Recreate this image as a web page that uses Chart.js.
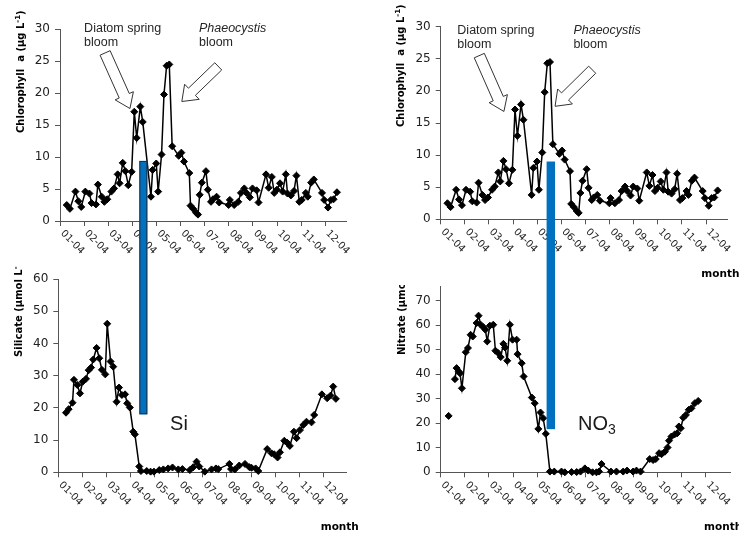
<!DOCTYPE html>
<html>
<head>
<meta charset="utf-8">
<script src="https://cdn.jsdelivr.net/npm/chart.js@4.4.1/dist/chart.umd.min.js"></script>
<style>
  html, body { margin: 0; padding: 0; background: #fff; overflow: hidden; }
  #wrap { position: relative; width: 739px; height: 533px; }
  #wrap canvas { position: absolute; left: 0; top: 0; }
</style>
</head>
<body>
<div id="wrap">
  <canvas id="cTL" width="739" height="533"></canvas>
  <canvas id="cTR" width="739" height="533"></canvas>
  <canvas id="cBL" width="739" height="533"></canvas>
  <canvas id="cBR" width="739" height="533"></canvas>
</div>
<script>
// Month axis (x = months elapsed since 1 Jan 2004)
const monthLabels = ['01-04','02-04','03-04','04-04','05-04','06-04','07-04','08-04','09-04','10-04','11-04','12-04'];

// Chlorophyll a (µg L-1)
const chlMonth = [0.28,0.41,0.64,0.76,0.88,1.05,1.22,1.31,1.49,1.57,1.73,1.84,1.96,2.13,2.24,2.39,2.47,2.60,2.71,2.83,2.97,3.08,3.18,3.33,3.43,3.77,3.84,3.99,4.07,4.21,4.31,4.42,4.53,4.65,4.92,5.03,5.14,5.36,5.41,5.52,5.64,5.72,5.79,5.88,6.05,6.13,6.26,6.34,6.49,6.60,6.99,7.04,7.22,7.39,7.50,7.64,7.73,7.87,7.98,8.15,8.23,8.54,8.65,8.78,8.88,8.99,9.12,9.23,9.36,9.43,9.57,9.70,9.80,9.92,10.02,10.19,10.27,10.41,10.52,10.86,10.95,11.11,11.23,11.34,11.48];
const chlValue = [2.5,1.9,4.6,3.1,2.2,4.6,4.3,2.8,2.6,5.7,3.8,3.0,3.4,4.6,5.1,7.3,5.9,9.1,7.8,5.6,7.7,17.1,13.0,17.9,15.5,3.8,8.0,9.0,4.6,10.4,19.8,24.3,24.5,11.7,10.2,10.7,9.3,7.5,2.4,1.9,1.3,1.0,4.1,6.0,7.8,4.9,3.0,3.4,3.8,2.9,2.5,3.3,2.5,3.0,4.4,5.1,4.4,3.7,5.1,4.8,2.9,7.3,5.2,6.9,4.4,4.9,5.9,4.6,7.3,4.3,4.0,4.7,7.1,3.0,3.3,4.4,3.8,6.0,6.5,4.4,3.3,2.1,3.3,3.4,4.5];

// Silicate (µmol L-1)
const siMonth = [0.32,0.43,0.59,0.65,0.79,0.90,1.01,1.15,1.26,1.36,1.45,1.59,1.70,1.81,1.95,2.03,2.17,2.28,2.42,2.52,2.64,2.77,2.86,2.97,3.11,3.18,3.36,3.43,3.67,3.83,3.97,4.19,4.36,4.56,4.74,4.98,5.15,5.46,5.60,5.74,5.85,6.08,6.36,6.54,6.64,7.10,7.17,7.33,7.51,7.75,7.93,8.02,8.19,8.30,8.67,8.85,8.96,9.10,9.20,9.38,9.50,9.61,9.78,9.89,10.03,10.17,10.30,10.51,10.62,10.94,11.16,11.30,11.41,11.52];
const siValue = [18.5,19.6,21.6,28.7,27.1,24.5,28.1,29.0,31.7,32.5,35.0,38.6,35.4,31.8,30.4,46.1,34.4,32.8,21.9,26.3,24.0,24.2,21.4,20.1,12.6,11.8,1.8,0.4,0.4,0.2,0.2,0.7,0.9,1.2,1.5,0.9,1.0,0.7,1.6,3.3,1.8,0.2,0.9,1.2,1.0,2.6,1.0,0.9,2.1,2.6,1.6,1.4,1.2,0.4,7.2,5.9,5.6,4.6,6.2,9.8,9.2,8.2,12.6,10.6,13.1,14.7,15.7,15.5,17.8,24.2,23.0,23.8,26.6,22.8];

// Nitrate (µmol L-1); null marks the break after the first sample
const no3Month = [0.33,0.45,0.59,0.66,0.75,0.80,0.88,1.04,1.13,1.24,1.33,1.49,1.57,1.66,1.77,1.85,1.93,2.04,2.18,2.27,2.39,2.49,2.60,2.67,2.76,2.87,2.98,3.15,3.19,3.36,3.44,3.78,3.90,4.05,4.14,4.25,4.36,4.53,4.71,5.01,5.15,5.43,5.64,5.80,5.98,6.12,6.30,6.46,6.57,6.67,7.06,7.29,7.57,7.73,7.98,8.12,8.29,8.67,8.81,8.92,9.06,9.16,9.30,9.41,9.47,9.57,9.71,9.81,9.88,9.96,10.06,10.17,10.29,10.40,10.54,10.68];
const no3Value = [23.0,null,38.0,42.5,41.1,40.4,34.3,49.0,50.7,56.1,55.4,60.9,63.9,60.2,59.2,58.2,53.4,59.8,60.2,49.6,48.6,47.0,52.4,50.9,45.5,60.2,54.1,54.1,48.2,44.5,39.1,30.5,28.2,17.7,24.4,22.1,15.7,0.3,0.3,0.3,0.0,0.1,0.1,0.3,1.6,0.7,0.0,0.0,0.3,3.4,0.3,0.3,0.3,0.7,0.3,0.7,0.3,5.4,5.0,5.4,7.8,7.4,8.4,10.1,12.9,14.6,15.5,15.9,18.7,18.0,22.3,23.4,25.5,26.1,28.2,29.1];

// Depletion markers: month span, top level on the chlorophyll axis, bottom level on the nutrient axis
const depletionBars = [
  { upper: 'TL', lower: 'BL', from: 3.29, to: 3.62, top: 9.4, bottom: 18.0, outline: true },
  { upper: 'TR', lower: 'BR', from: 4.39, to: 4.74, top: 9.0, bottom: 17.6, outline: false }
];

const AXIS = '#555';
const TICK_FONT = '"DejaVu Sans", Verdana, sans-serif';
const TEXT_FONT = '"Liberation Sans", Arial, sans-serif';
const Y_W = 50, X_H = 30;

const chlTitle = [{ t: 'Chlorophyll  a (µg L' }, { t: '-1', sup: true }, { t: ')' }];
const siTitle = [{ t: 'Silicate (µmol L' }, { t: '-1', sup: true }, { t: ')' }];
const no3Title = [{ t: 'Nitrate (µmol L' }, { t: '-1', sup: true }, { t: ')' }];

const bloomNotes = {
  TL: { diatom: [1.0, 29.6], phaeo: [5.76, 29.6],
        arrows: [ { from: [1.87, 26.3], to: [2.90, 17.6], shaft: 11, head: 20, len: 14 },
                  { from: [6.56, 24.2], to: [5.05, 18.7], shaft: 10, head: 21, len: 14 } ] },
  TR: { diatom: [0.69, 28.8], phaeo: [5.50, 28.8],
        arrows: [ { from: [1.60, 25.5], to: [2.62, 16.8], shaft: 11, head: 20, len: 14 },
                  { from: [6.28, 23.3], to: [4.74, 17.6], shaft: 10, head: 21, len: 14 } ] }
};

const panels = {
  TL: { xs: chlMonth, ys: chlValue, xMax: 11.88, yMax: 30, yTop: 30, yStep: 5,
        area: { left: 60, right: 346.6, top: 29.3, bottom: 221 },
        title: chlTitle, titleX: 21, titleBottom: 133, clipTop: 0, month: false, notes: bloomNotes.TL },
  TR: { xs: chlMonth, ys: chlValue, xMax: 11.88, yMax: 30, yTop: 30, yStep: 5,
        area: { left: 440.7, right: 727.3, top: 26.7, bottom: 219.3 },
        title: chlTitle, titleX: 401, titleBottom: 127, clipTop: 0, month: true, notes: bloomNotes.TR },
  BL: { xs: siMonth, ys: siValue, xMax: 11.97, yMax: 60, yTop: 60, yStep: 10,
        area: { left: 58.3, right: 346.7, top: 279, bottom: 472.3 },
        title: siTitle, titleX: 19, titleBottom: 357, clipTop: 266, month: true,
        tag: { text: 'Si', sub: '', at: [4.64, 13.1] } },
  BR: { xs: no3Month, ys: no3Value, xMax: 12.0, yMax: 76, yTop: 70, yStep: 10,
        area: { left: 440.7, right: 730, top: 286, bottom: 472.3 },
        title: no3Title, titleX: 402, titleBottom: 355, clipTop: 285, month: true,
        tag: { text: 'NO', sub: '3', at: [5.70, 17.3] } }
};

const charts = {};

function drawArrow(ctx, x1, y1, x2, y2, shaft, head, len) {
  const dx = x2 - x1, dy = y2 - y1, L = Math.hypot(dx, dy);
  const ux = dx / L, uy = dy / L, nx = -uy, ny = ux;
  const bx = x2 - ux * len, by = y2 - uy * len;
  const s = shaft / 2, h = head / 2;
  ctx.beginPath();
  ctx.moveTo(x1 + nx * s, y1 + ny * s);
  ctx.lineTo(bx + nx * s, by + ny * s);
  ctx.lineTo(bx + nx * h, by + ny * h);
  ctx.lineTo(x2, y2);
  ctx.lineTo(bx - nx * h, by - ny * h);
  ctx.lineTo(bx - nx * s, by - ny * s);
  ctx.lineTo(x1 - nx * s, y1 - ny * s);
  ctx.closePath();
  ctx.fillStyle = '#fff';
  ctx.fill();
  ctx.strokeStyle = '#333';
  ctx.lineWidth = 1;
  ctx.stroke();
}

function decorate(chart, p, key) {
  const ctx = chart.ctx, a = chart.chartArea, xs = chart.scales.x, ys = chart.scales.y;
  ctx.save();

  // rotated month labels
  ctx.font = '10px ' + TICK_FONT;
  ctx.fillStyle = '#222';
  ctx.textAlign = 'left';
  ctx.textBaseline = 'middle';
  monthLabels.forEach((lab, i) => {
    const px = xs.getPixelForValue(i);
    ctx.save();
    ctx.translate(px + 2, a.bottom + 11);
    ctx.rotate(Math.PI / 4);
    ctx.fillText(lab, 0, 0);
    ctx.restore();
  });

  // vertical axis title
  ctx.save();
  ctx.beginPath();
  ctx.rect(0, p.clipTop, 739, 533 - p.clipTop);
  ctx.clip();
  ctx.translate(p.titleX, p.titleBottom);
  ctx.rotate(-Math.PI / 2);
  ctx.fillStyle = '#000';
  let cx = 0;
  p.title.forEach(part => {
    ctx.font = (part.sup ? 'bold 7px ' : 'bold 10px ') + TICK_FONT;
    ctx.fillText(part.t, cx, part.sup ? -3 : 0);
    cx += ctx.measureText(part.t).width;
  });
  ctx.restore();

  // x axis title
  if (p.month) {
    ctx.font = 'bold 10.5px ' + TICK_FONT;
    ctx.fillStyle = '#000';
    ctx.fillText('month', a.right - 26, a.bottom + 55);
  }

  // nutrient tag
  if (p.tag) {
    const tx = xs.getPixelForValue(p.tag.at[0]), ty = ys.getPixelForValue(p.tag.at[1]);
    ctx.fillStyle = '#1a1a1a';
    ctx.textBaseline = 'alphabetic';
    ctx.font = '20px ' + TEXT_FONT;
    ctx.fillText(p.tag.text, tx, ty);
    if (p.tag.sub) {
      const w = ctx.measureText(p.tag.text).width;
      ctx.font = '14px ' + TEXT_FONT;
      ctx.fillText(p.tag.sub, tx + w, ty + 4.5);
    }
  }

  // bloom annotations
  if (p.notes) {
    const n = p.notes;
    n.arrows.forEach(ar => drawArrow(ctx,
      xs.getPixelForValue(ar.from[0]), ys.getPixelForValue(ar.from[1]),
      xs.getPixelForValue(ar.to[0]), ys.getPixelForValue(ar.to[1]), ar.shaft, ar.head, ar.len));
    ctx.fillStyle = '#262626';
    ctx.textBaseline = 'alphabetic';
    ctx.textAlign = 'left';
    const dx = xs.getPixelForValue(n.diatom[0]), dy = ys.getPixelForValue(n.diatom[1]);
    ctx.font = '12.5px ' + TEXT_FONT;
    ctx.fillText('Diatom spring', dx, dy);
    ctx.fillText('bloom', dx, dy + 14);
    const px = xs.getPixelForValue(n.phaeo[0]), py = ys.getPixelForValue(n.phaeo[1]);
    ctx.font = 'italic 12.5px ' + TEXT_FONT;
    ctx.fillText('Phaeocystis', px, py);
    ctx.font = '12.5px ' + TEXT_FONT;
    ctx.fillText('bloom', px, py + 14);
  }

  // depletion bars spanning the chlorophyll and nutrient panels
  depletionBars.filter(b => b.lower === key).forEach(b => {
    const up = charts[b.upper];
    if (!up) return;
    const x1 = up.scales.x.getPixelForValue(b.from);
    const x2 = up.scales.x.getPixelForValue(b.to);
    const y1 = up.scales.y.getPixelForValue(b.top);
    const y2 = ys.getPixelForValue(b.bottom);
    ctx.fillStyle = '#0070C0';
    ctx.fillRect(x1, y1, x2 - x1, y2 - y1);
    if (b.outline) {
      ctx.strokeStyle = '#1c2f44';
      ctx.lineWidth = 1;
      ctx.strokeRect(x1 + 0.5, y1 + 0.5, x2 - x1 - 1, y2 - y1 - 1);
    }
  });

  ctx.restore();
}

function makePanel(key) {
  const p = panels[key];
  const a = p.area;
  const points = p.xs.map((x, i) => ({ x: x, y: p.ys[i] }));
  const gridOpts = { drawOnChartArea: false, drawTicks: true, tickLength: 5, color: AXIS, lineWidth: 1 };
  charts[key] = new Chart(document.getElementById('c' + key), {
    type: 'line',
    data: {
      datasets: [{
        data: points,
        borderColor: '#000',
        borderWidth: 1.5,
        pointStyle: 'rectRot',
        pointRadius: 3.5,
        pointBackgroundColor: '#000',
        pointBorderColor: '#000',
        pointBorderWidth: 1,
        tension: 0,
        spanGaps: false,
        clip: false
      }]
    },
    options: {
      responsive: false,
      animation: false,
      devicePixelRatio: 1,
      events: [],
      layout: { padding: { left: a.left - Y_W, right: 739 - a.right, top: a.top, bottom: 533 - a.bottom - X_H } },
      plugins: { legend: { display: false }, tooltip: { enabled: false } },
      scales: {
        x: {
          type: 'linear', min: 0, max: p.xMax,
          afterBuildTicks: s => { s.ticks = monthLabels.map((_, i) => ({ value: i })); },
          afterFit: s => { s.height = X_H; },
          ticks: { display: false },
          grid: gridOpts,
          border: { color: AXIS, width: 1 }
        },
        y: {
          type: 'linear', min: 0, max: p.yMax,
          afterBuildTicks: s => { s.ticks = s.ticks.filter(t => t.value <= p.yTop); },
          afterFit: s => { s.width = Y_W; },
          ticks: { stepSize: p.yStep, font: { family: TICK_FONT, size: 12 }, color: '#222', padding: 5 },
          grid: gridOpts,
          border: { color: AXIS, width: 1 }
        }
      }
    },
    plugins: [{ id: 'decor' + key, afterDraw: chart => decorate(chart, p, key) }]
  });
}

['TL', 'TR', 'BL', 'BR'].forEach(makePanel);
</script>
</body>
</html>
